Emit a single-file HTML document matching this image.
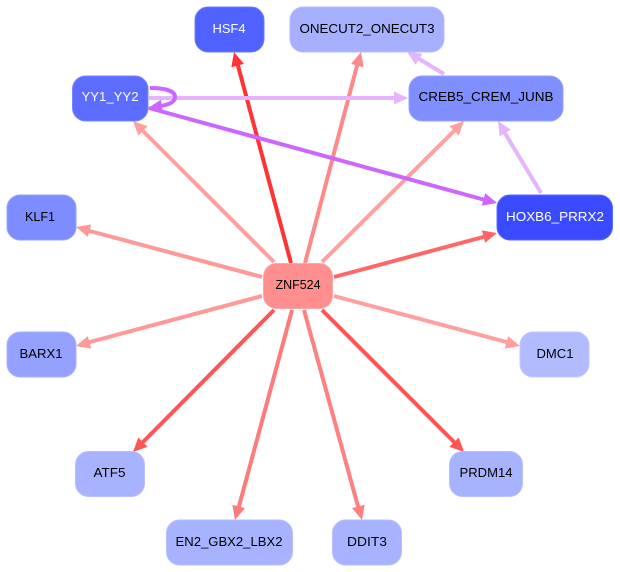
<!DOCTYPE html>
<html>
<head>
<meta charset="utf-8">
<style>
html,body{margin:0;padding:0;background:#fff;}
svg{display:block;}
text{font-family:"Liberation Sans",sans-serif;font-size:13px;text-anchor:middle;fill:#000;}
text.w{fill:#fff;}
</style>
</head>
<body>
<svg width="620" height="572" viewBox="0 0 620 572" xmlns="http://www.w3.org/2000/svg">
<defs>
<g id="h"><path d="M0 0L-14 -6.500L-14 6.500Z"/></g>
</defs>
<g fill="none" stroke-width="4">
<path d="M291 263L237 62" stroke="#ff3333"/>
<path d="M305 263L358 62" stroke="#ff8888"/>
<path d="M322 262L456 129" stroke="#ffa0a0"/>
<path d="M334 277L487 236" stroke="#ff6666"/>
<path d="M334 296L510 343" stroke="#ffa0a0"/>
<path d="M322 310L456 444" stroke="#ff5555"/>
<path d="M304 310L359 510" stroke="#ff8080"/>
<path d="M292 310L238 510" stroke="#ff7a7a"/>
<path d="M274 310L141 444" stroke="#ff5555"/>
<path d="M262 296L86 343" stroke="#ff9898"/>
<path d="M262 277L86 230" stroke="#ff9898"/>
<path d="M274 262L141 129" stroke="#ffa0a0"/>
<path d="M444 74L416 57" stroke="#e6b3ff"/>
<path d="M541 193L503 130" stroke="#e6b3ff"/>
<path d="M149 98L398 98" stroke="#e6b3ff"/>
<path d="M149 108L487 200.500" stroke="#cc66ff"/>
<path d="M150 88C168 88 175 92 175 97C175 103 167 105 158 106.500" stroke="#cc66ff"/>
</g>
<g>
<use href="#h" fill="#ff3333" transform="translate(234 52) rotate(-105)"/>
<use href="#h" fill="#ff8888" transform="translate(361 52) rotate(-75)"/>
<use href="#h" fill="#ffa0a0" transform="translate(464 121) rotate(-45)"/>
<use href="#h" fill="#ff6666" transform="translate(497 233) rotate(-15)"/>
<use href="#h" fill="#ffa0a0" transform="translate(520 346) rotate(15)"/>
<use href="#h" fill="#ff5555" transform="translate(464 452) rotate(45)"/>
<use href="#h" fill="#ff8080" transform="translate(362 520) rotate(75)"/>
<use href="#h" fill="#ff7a7a" transform="translate(235 520) rotate(105)"/>
<use href="#h" fill="#ff5555" transform="translate(133 452) rotate(135)"/>
<use href="#h" fill="#ff9898" transform="translate(76 346) rotate(165)"/>
<use href="#h" fill="#ff9898" transform="translate(76 227) rotate(195)"/>
<use href="#h" fill="#ffa0a0" transform="translate(133 121) rotate(225)"/>
<use href="#h" fill="#e6b3ff" transform="translate(407 52) rotate(211)"/>
<use href="#h" fill="#e6b3ff" transform="translate(498 121) rotate(239)"/>
<use href="#h" fill="#e6b3ff" transform="translate(408 98)"/>
<use href="#h" fill="#cc66ff" transform="translate(497 203) rotate(15)"/>
<use href="#h" fill="#cc66ff" transform="translate(148 108) rotate(172)"/>
</g>
<g stroke-width="1">
<rect x="195" y="7" width="69" height="45" rx="13" fill="#4f62ff" stroke="#6c7cff"/>
<rect x="290" y="7" width="154" height="45" rx="13" fill="#a6b0ff" stroke="#b4bdff"/>
<rect x="409" y="76" width="154" height="45" rx="13" fill="#808fff" stroke="#96a2ff"/>
<rect x="72.500" y="76" width="75.500" height="45" rx="13" fill="#5c6cff" stroke="#7885ff"/>
<rect x="497" y="195" width="115.500" height="45" rx="13" fill="#3a4bff" stroke="#5a6aff"/>
<rect x="263.500" y="263.500" width="69" height="45" rx="13" fill="#ff8f8f" stroke="#ffa6a6"/>
<rect x="7" y="195" width="69" height="45" rx="13" fill="#7d8cff" stroke="#94a1ff"/>
<rect x="7" y="332" width="69" height="45" rx="13" fill="#95a1ff" stroke="#a8b2ff"/>
<rect x="75.500" y="451.500" width="69" height="45" rx="13" fill="#a8b3ff" stroke="#b6bfff"/>
<rect x="166.500" y="520" width="126" height="45" rx="13" fill="#a8b3ff" stroke="#b6bfff"/>
<rect x="332.500" y="520" width="69" height="45" rx="13" fill="#a8b3ff" stroke="#b6bfff"/>
<rect x="520" y="332" width="69" height="45" rx="13" fill="#b3bbff" stroke="#c0c7ff"/>
<rect x="449.500" y="451.500" width="73" height="45" rx="13" fill="#a8b3ff" stroke="#b6bfff"/>
</g>
<text class="w" x="229" y="33" textLength="33" lengthAdjust="spacingAndGlyphs">HSF4</text>
<text x="367" y="33" textLength="135" lengthAdjust="spacingAndGlyphs">ONECUT2_ONECUT3</text>
<text x="486" y="101" textLength="135" lengthAdjust="spacingAndGlyphs">CREB5_CREM_JUNB</text>
<text class="w" x="110" y="101" textLength="57" lengthAdjust="spacingAndGlyphs">YY1_YY2</text>
<text class="w" x="555" y="221" textLength="98" lengthAdjust="spacingAndGlyphs">HOXB6_PRRX2</text>
<text x="298" y="289" textLength="45" lengthAdjust="spacingAndGlyphs">ZNF524</text>
<text x="40" y="221" textLength="30" lengthAdjust="spacingAndGlyphs">KLF1</text>
<text x="41" y="358" textLength="43" lengthAdjust="spacingAndGlyphs">BARX1</text>
<text x="109.500" y="477" textLength="32" lengthAdjust="spacingAndGlyphs">ATF5</text>
<text x="229" y="546" textLength="107" lengthAdjust="spacingAndGlyphs">EN2_GBX2_LBX2</text>
<text x="367" y="546" textLength="40" lengthAdjust="spacingAndGlyphs">DDIT3</text>
<text x="555" y="358" textLength="37" lengthAdjust="spacingAndGlyphs">DMC1</text>
<text x="486" y="477" textLength="53" lengthAdjust="spacingAndGlyphs">PRDM14</text>
</svg>
</body>
</html>
